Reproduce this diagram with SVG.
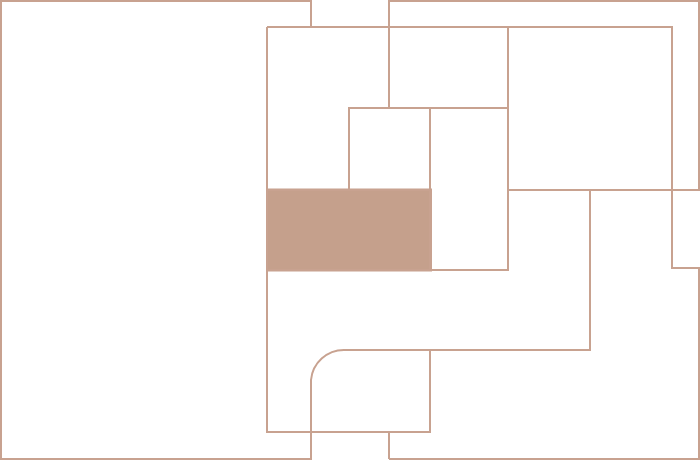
<svg xmlns="http://www.w3.org/2000/svg" width="700" height="460" viewBox="0 0 700 460">
<style>
.w{fill:none;stroke:#c8a290;stroke-width:2;stroke-linejoin:miter}
.f{fill:#c5a08c;stroke:#c8a290;stroke-width:2}
</style>
<rect width="700" height="460" fill="#ffffff"/>
<rect class="f" x="267" y="189.5" width="164" height="81"/>
<path class="w" d="M311,27 V1 H1 V459 H311 V380 A33,33 0 0 1 344,350 H590 V190"/>
<path class="w" d="M389,108 V1 H699 V190 H672"/>
<path class="w" d="M389,459 V432"/>
<path class="w" d="M389,459 H699 V268 H672 V190"/>
<path class="w" d="M267,27 H672 V190 H508"/>
<path class="w" d="M267,27 V432 H430 V350"/>
<path class="w" d="M508,27 V270 H267"/>
<path class="w" d="M349,190 V108 H508"/>
<path class="w" d="M430,108 V270"/>
<path class="w" d="M267,190 H431"/>
</svg>
